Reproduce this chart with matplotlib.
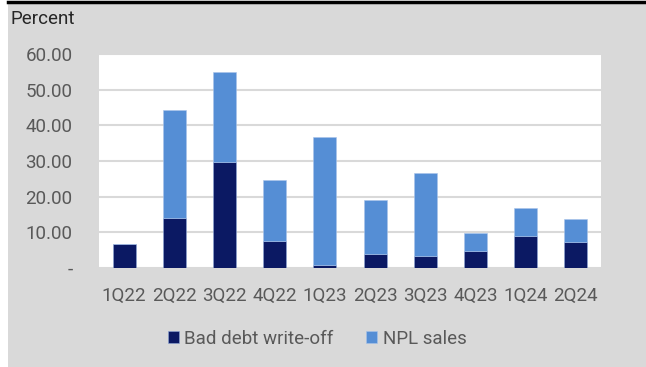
import matplotlib.pyplot as plt
import numpy as np

quarters = ["1Q22", "2Q22", "3Q22", "4Q22", "1Q23", "2Q23", "3Q23", "4Q23", "1Q24", "2Q24"]
bad_debt = [6.7, 14.1, 29.8, 7.6, 0.8, 4.0, 3.4, 4.8, 8.9, 7.3]
npl_sales = [0.0, 30.3, 25.1, 17.2, 35.8, 15.2, 23.2, 5.0, 8.0, 6.4]
yticks = [0, 10, 20, 30, 40, 50, 60]
ytick_labels = ["-", "10.00", "20.00", "30.00", "40.00", "50.00", "60.00"]

navy = "#0b1963"
blue = "#558ed5"
grey_bg = "#d9d9d9"
txt = "#595959"

plt.rcParams['font.family'] = ['Roboto', 'DejaVu Sans']

fig = plt.figure(figsize=(6.46, 3.67), dpi=100)
fig.patches.append(plt.Rectangle((8 / 646, 0), 1, 1 - 4 / 367, transform=fig.transFigure,
                                 facecolor=grey_bg, edgecolor="none", zorder=-10))
fig.lines.append(plt.Line2D([8 / 646, 1], [1 - 2 / 367, 1 - 2 / 367], transform=fig.transFigure,
                            color="black", lw=2.5))

ax = fig.add_axes([99 / 646, 1 - 268 / 367, 502 / 646, 214 / 367])
ax.set_facecolor("white")
x = np.arange(len(quarters))
ax.bar(x, bad_debt, width=0.46, color=navy, edgecolor="#8fa8d8", linewidth=0.4,
       label="Bad debt write-off", zorder=3)
ax.bar(x, npl_sales, width=0.46, bottom=bad_debt, color=blue, edgecolor="#a9c4ea",
       linewidth=0.4, label="NPL sales", zorder=3)

ax.set_xlim(-0.5, len(quarters) - 0.5)
ax.set_ylim(0, 60)
ax.set_yticks(yticks)
ax.set_yticklabels(ytick_labels)
ax.set_xticks(x)
ax.set_xticklabels(quarters)
ax.yaxis.grid(True, color=grey_bg, lw=1.5, zorder=0)
ax.tick_params(axis="both", length=0, labelsize=13.5, colors=txt)
ax.tick_params(axis="y", pad=19)
ax.tick_params(axis="x", pad=14)
for s in ax.spines.values():
    s.set_visible(False)

fig.text(10 / 646, 1 - 19 / 367, "Percent", fontsize=13.5, color="#262626", va="center")

fig.legend(loc="center", bbox_to_anchor=(317 / 646, 1 - 339 / 367), ncol=2, frameon=False,
           fontsize=13.5, labelcolor=txt, handlelength=0.6, handleheight=0.6,
           columnspacing=1.7, handletextpad=0.3)

fig.savefig("out.png", dpi=100, facecolor="white")
